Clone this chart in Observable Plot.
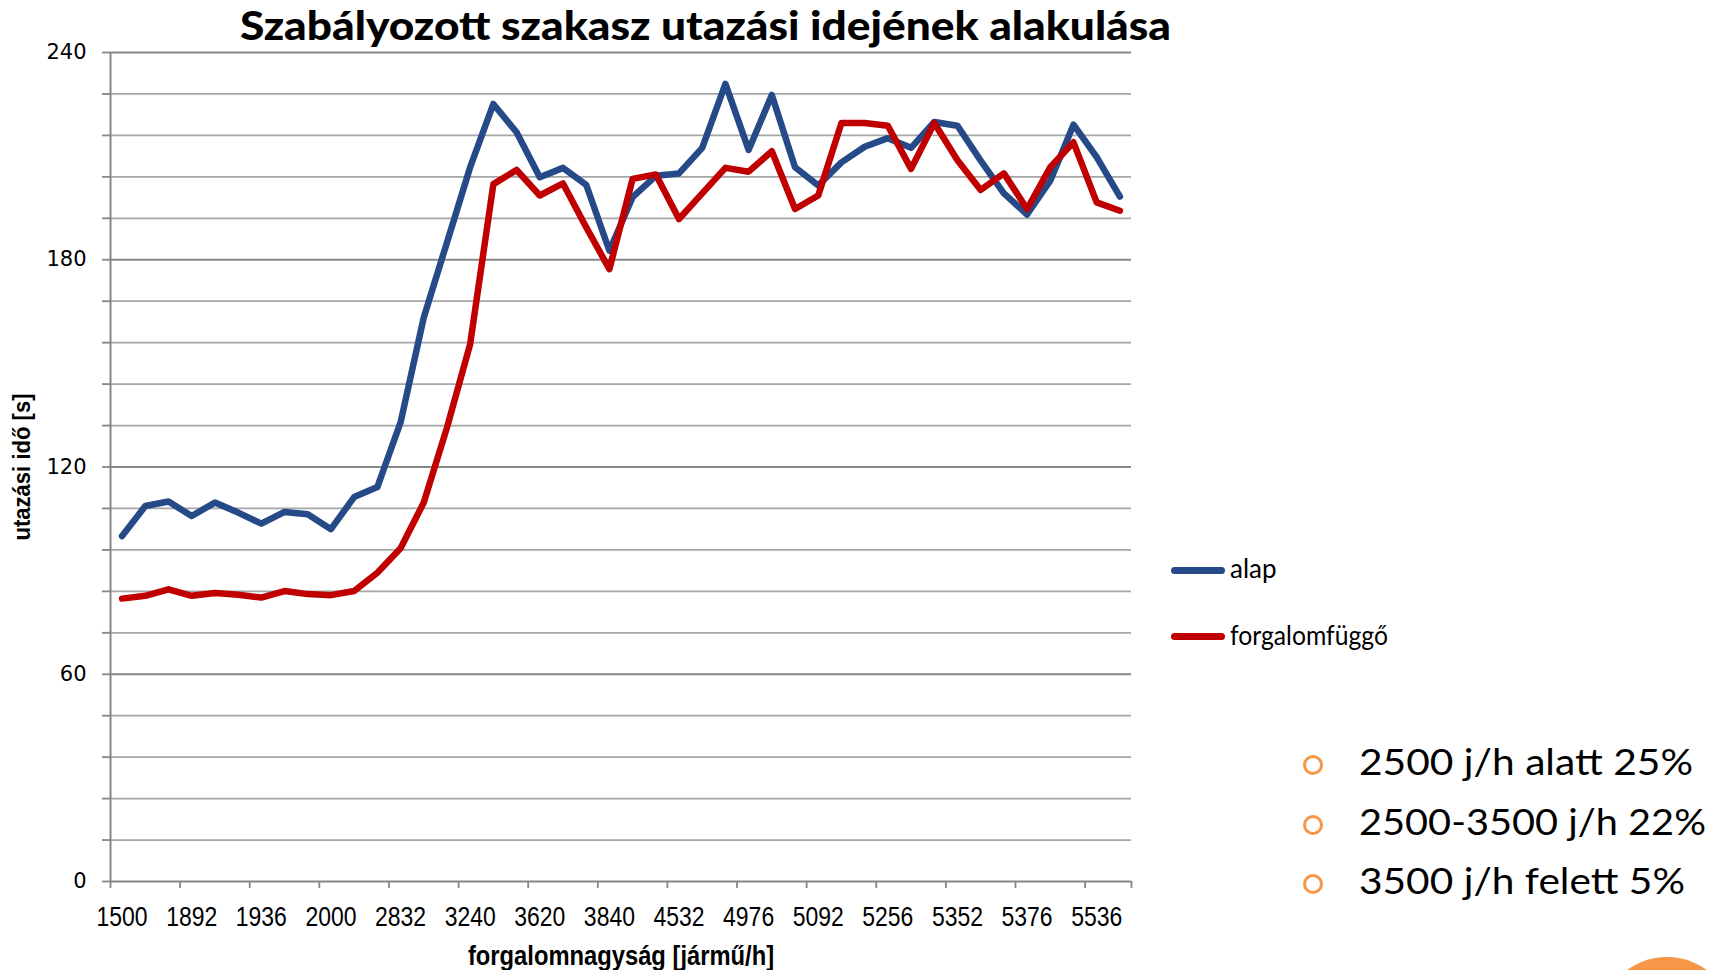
<!DOCTYPE html>
<html><head><meta charset="utf-8">
<script src="https://cdn.jsdelivr.net/npm/d3@7"></script>
<script src="https://cdn.jsdelivr.net/npm/@observablehq/plot@0.6"></script>
<style>
body{margin:0;background:#fff;}
#wrap{position:relative;width:1727px;height:970px;overflow:hidden;background:#fff;}
#chart{position:absolute;left:0;top:0;}
.t{position:absolute;white-space:nowrap;transform-origin:0 0;color:#000;line-height:1;}
.bl{position:absolute;width:20px;height:20px;border:3.4px solid #F79646;border-radius:50%;box-sizing:border-box;}
.lg{position:absolute;height:7px;border-radius:3.5px;}
</style></head>
<body>
<div id="wrap">
  <div id="chart"></div>
  <div class="t" id="title" style="font-family:Lato;font-weight:900;font-size:40px;">Szabályozott szakasz utazási idejének alakulása</div>
  <div class="lg" style="left:1171px;top:567px;width:54px;background:#254A87;"></div>
  <div class="lg" style="left:1171px;top:633px;width:54px;background:#C00000;"></div>
  <div class="t" id="lg1" style="font-family:Lato;font-size:26px;">alap</div>
  <div class="t" id="lg2" style="font-family:Lato;font-size:26px;">forgalomfüggő</div>
  <div class="bl" style="left:1303px;top:755px;"></div>
  <div class="bl" style="left:1303px;top:814.5px;"></div>
  <div class="bl" style="left:1303px;top:874px;"></div>
  <div class="t" id="b1" style="font-family:Lato;font-size:37px;">2500 j/h alatt 25%</div>
  <div class="t" id="b2" style="font-family:Lato;font-size:37px;">2500-3500 j/h 22%</div>
  <div class="t" id="b3" style="font-family:Lato;font-size:37px;">3500 j/h felett 5%</div>
  <div style="position:absolute;left:1599px;top:957px;width:136px;height:136px;border-radius:50%;background:#F79646;"></div>
</div>
<script>
// ---- data ----
const tickLabels = ["1500","1892","1936","2000","2832","3240","3620","3840","4532","4976","5092","5256","5352","5376","5536"];
const alap = [100,108.7,110,105.8,109.7,106.8,103.6,107,106.3,102,111.3,114.2,132.9,163.3,185,206.8,225.1,216.9,203.9,206.6,201.7,182.6,198.1,204.3,205,212.4,230.9,211.8,227.7,206.8,201.5,208.2,212.7,215.2,212.4,219.9,218.8,208.7,199.2,193.1,202.9,219.1,209.7,198.3];
const forgalomfuggo = [81.9,82.7,84.6,82.7,83.5,83,82.2,84.1,83.2,82.9,84.1,89.4,96.5,109.7,131.4,155.6,201.9,206,198.6,202.1,189.4,177.3,203.4,204.7,191.8,199.2,206.6,205.5,211.4,194.7,198.6,219.6,219.6,218.8,206.3,219.6,208.8,200.2,205,194.7,206.8,214,196.6,194.2];
const yTicks = [0,60,120,180,240];
const yStep = 12;
const tickEvery = 3;
const yLabel = "utazási idő [s]";
const xLabel = "forgalomnagyság [jármű/h]";

const n = alap.length;
const idx = d3.range(n);
const minorGrid = d3.range(yStep, 241, yStep).filter(v => !yTicks.includes(v));
const majorGrid = yTicks.filter(v => v > 0);
const boundaries = d3.range(-0.5, n, tickEvery).concat([n - 0.5]);
const labelPos = d3.range(0, n, tickEvery);
const axisColor = "#868686";
const narrow = "'Liberation Sans', Arial, sans-serif";

const plot = Plot.plot({
  width: 1160, height: 970,
  marginLeft: 110, marginRight: 29, marginTop: 52, marginBottom: 89,
  x: {domain: [-0.5, n - 0.5], axis: null},
  y: {domain: [0, 240], axis: null},
  style: {background: "transparent", overflow: "visible"},
  marks: [
    Plot.gridY(minorGrid, {stroke: "#A6A6A6", strokeOpacity: 1, strokeWidth: 1.8}),
    Plot.gridY(majorGrid, {stroke: "#878787", strokeOpacity: 1, strokeWidth: 1.8}),
    Plot.axisY({ticks: d3.range(0, 241, yStep), tickSize: 8, tickPadding: 16,
      tickFormat: d => yTicks.includes(d) ? String(d) : "",
      fontSize: 21, fontFamily: "DejaVu Sans", stroke: axisColor, strokeWidth: 1.8, label: null}),
    Plot.axisX({ticks: boundaries, tickSize: 7, tickFormat: () => "", stroke: axisColor, strokeWidth: 1.8, label: null}),
    Plot.axisX({ticks: labelPos, tickSize: 0, tickPadding: 25,
      tickFormat: i => tickLabels[i / tickEvery], fontSize: 28,
      fontFamily: narrow, label: null}),
    Plot.ruleX([-0.5], {stroke: axisColor, strokeWidth: 2}),
    Plot.ruleY([0], {stroke: axisColor, strokeWidth: 2}),
    Plot.line(idx, {x: i => i, y: i => alap[i], stroke: "#254A87", strokeWidth: 6.5, strokeLinejoin: "round", strokeLinecap: "round"}),
    Plot.line(idx, {x: i => i, y: i => forgalomfuggo[i], stroke: "#C00000", strokeWidth: 6.5, strokeLinejoin: "round", strokeLinecap: "round"}),
    Plot.text([yLabel], {frameAnchor: "left", textAnchor: "middle", lineAnchor: "middle", rotate: -90, dx: -88,
      fontWeight: "bold", fontSize: 23, fontFamily: narrow, fill: "#000"}),
    Plot.text([xLabel], {frameAnchor: "bottom", textAnchor: "middle", lineAnchor: "middle", dy: 75,
      fontWeight: "bold", fontSize: 27, fontFamily: narrow, fill: "#000"})
  ]
});
document.getElementById("chart").appendChild(plot);

// horizontally condense some svg texts (the original uses a narrow font)
function condense(match, s) {
  plot.querySelectorAll("text").forEach(t => {
    if (!match(t.textContent)) return;
    const tr = t.getAttribute("transform") || "";
    const x = parseFloat(t.getAttribute("x")) || 0;
    if (tr) {
      t.setAttribute("transform", tr + ` scale(${s},1)`);
    } else {
      t.setAttribute("transform", `translate(${x},0) scale(${s},1)`);
      t.setAttribute("x", 0);
    }
  });
}
condense(c => tickLabels.includes(c), 0.82);
condense(c => c === xLabel, 0.88);
condense(c => c === yLabel, 0.96);

// place HTML text by baseline and fit width
function place(id, left, baseline, width) {
  const el = document.getElementById(id);
  el.style.left = left + "px";
  el.style.top = "0px";
  el.style.transform = "none";
  const probe = document.createElement("span");
  probe.style.cssText = "display:inline-block;width:0;height:0;vertical-align:baseline;";
  el.appendChild(probe);
  const base = probe.getBoundingClientRect().top - el.getBoundingClientRect().top;
  el.removeChild(probe);
  el.style.top = (baseline - base) + "px";
  if (width) {
    const w = el.getBoundingClientRect().width;
    el.style.transform = `scaleX(${width / w})`;
  }
}
function layout() {
  place("title", 240, 39.5, 931);
  place("lg1", 1230, 578, null);
  place("lg2", 1230, 645, 158);
  place("b1", 1359, 775, 334);
  place("b2", 1359, 834.5, 347);
  place("b3", 1359, 894, 326);
}
layout();
if (document.fonts && document.fonts.ready) document.fonts.ready.then(layout);
</script>
</body></html>
